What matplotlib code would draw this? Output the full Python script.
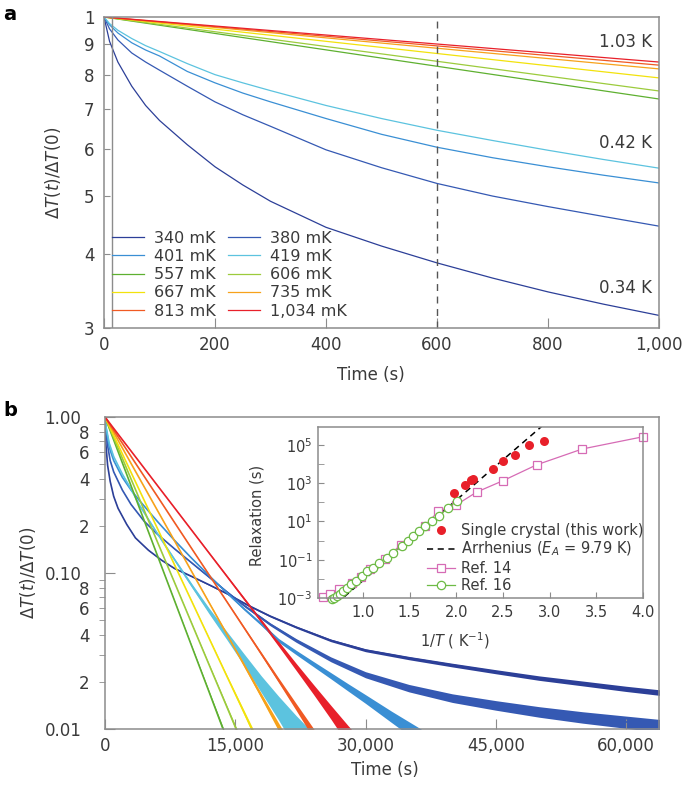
import matplotlib
matplotlib.use('Agg')
import matplotlib.pyplot as plt
from matplotlib.ticker import FixedLocator, FixedFormatter, FuncFormatter, NullLocator, NullFormatter

plt.rcParams['font.family'] = ['DejaVu Sans']
plt.rcParams['mathtext.fontset'] = 'dejavusans'

# ---------------- data ----------------
labels = ['340 mK', '380 mK', '401 mK', '419 mK', '557 mK',
          '606 mK', '667 mK', '735 mK', '813 mK', '1,034 mK']

# panel a: short time decay (s, normalised)
ta = [0, 10, 25, 50, 75, 100, 150, 200, 250, 300, 400, 500, 600, 700, 800, 900, 1000]
a_340 = [1.0, 0.91, 0.84, 0.765, 0.71, 0.67, 0.61, 0.56, 0.522, 0.49, 0.443, 0.412, 0.386, 0.364, 0.345, 0.329, 0.315]
a_380 = [1.0, 0.955, 0.915, 0.87, 0.84, 0.814, 0.765, 0.72, 0.685, 0.655, 0.598, 0.558, 0.525, 0.50, 0.48, 0.462, 0.445]
a_401 = [1.0, 0.97, 0.94, 0.905, 0.88, 0.86, 0.81, 0.775, 0.745, 0.72, 0.675, 0.635, 0.604, 0.58, 0.56, 0.542, 0.526]
a_419 = [1.0, 0.975, 0.95, 0.92, 0.895, 0.875, 0.835, 0.80, 0.775, 0.752, 0.71, 0.675, 0.645, 0.62, 0.597, 0.576, 0.557]
ta_lin = [0, 500, 1000]
a_557 = [1.0, 0.853, 0.728]
a_606 = [1.0, 0.867, 0.751]
a_667 = [1.0, 0.889, 0.790]
a_735 = [1.0, 0.904, 0.818]
a_813 = [1.0, 0.911, 0.830]
a_1034 = [1.0, 0.9165, 0.840]
a_yticks = [0.3, 0.4, 0.5, 0.6, 0.7, 0.8, 0.9, 1.0]
a_yticklabels = ['3', '4', '5', '6', '7', '8', '9', '1']
a_xticks = [0, 200, 400, 600, 800, 1000]
start_t = 15
dashed_t = 600
a_notes = ['1.03 K', '0.42 K', '0.34 K']
a_note_y = [0.908, 0.614, 0.350]

# panel b: long time decay
tb_340 = [0, 30, 100, 300, 600, 1000, 1500, 2500, 3500, 5000, 6500, 8000, 10000, 12000, 14000,
          16500, 19000, 22000, 26000, 30000, 35000, 40000, 45000, 50000, 55000, 60000, 64000]
b_340 = [1.0, 0.82, 0.67, 0.49, 0.386, 0.31, 0.26, 0.205, 0.168, 0.14, 0.121, 0.107, 0.095, 0.084, 0.074,
         0.062, 0.053, 0.045, 0.037, 0.032, 0.0285, 0.0257, 0.0233, 0.0212, 0.0196, 0.0181, 0.0171]
tb_380 = [0, 100, 300, 600, 1000, 2000, 3000, 4500, 6000, 8000, 10000, 12000, 14000, 16000, 19000,
          22000, 26000, 30000, 35000, 40000, 45000, 50000, 55000, 60000, 64000]
b_380 = [1.0, 0.814, 0.655, 0.525, 0.445, 0.34, 0.275, 0.215, 0.178, 0.143, 0.116, 0.094, 0.076, 0.062, 0.047,
         0.037, 0.028, 0.0223, 0.0183, 0.0158, 0.0142, 0.0129, 0.0119, 0.0111, 0.0105]
tb_401 = [0, 100, 500, 1000, 2000, 3000, 4000, 6000, 8000, 10000, 12000, 14000, 16000, 18000, 20000,
          22000, 24000, 26000, 28000, 30000, 33000, 36000, 38000]
b_401 = [1.0, 0.86, 0.635, 0.526, 0.41, 0.34, 0.29, 0.215, 0.162, 0.124, 0.096, 0.075, 0.059, 0.047, 0.037,
         0.031, 0.0261, 0.022, 0.0185, 0.0156, 0.012, 0.0093, 0.0078]
tb_419 = [0, 100, 500, 1000, 2000, 3000, 4000, 6000, 8000, 10000, 12000, 14000, 16000, 18000, 20000,
          22000, 24000, 26000]
b_419 = [1.0, 0.875, 0.675, 0.557, 0.43, 0.345, 0.27, 0.18, 0.122, 0.083, 0.057, 0.04, 0.028, 0.0195, 0.0138,
         0.0098, 0.007, 0.005]
tb_557 = [0, 2000, 4000, 6000, 8000, 10000, 12000, 14000, 15000]
b_557 = [1.0, 0.508, 0.258, 0.131, 0.0666, 0.0338, 0.0172, 0.0087, 0.0062]
tb_606 = [0, 2000, 4000, 6000, 8000, 10000, 12000, 14000, 16000, 17000]
b_606 = [1.0, 0.543, 0.295, 0.160, 0.0871, 0.0473, 0.0257, 0.0140, 0.0076, 0.0056]
tb_667 = [0, 2000, 4000, 6000, 8000, 10000, 12000, 14000, 16000, 18000, 19000]
b_667 = [1.0, 0.580, 0.336, 0.195, 0.113, 0.0656, 0.0380, 0.0220, 0.0128, 0.0074, 0.0056]
tb_735 = [0, 2000, 4000, 6000, 8000, 10000, 12000, 14000, 16000, 18000, 20000, 22000, 23000]
b_735 = [1.0, 0.633, 0.401, 0.254, 0.161, 0.1017, 0.0644, 0.0408, 0.0258, 0.0163, 0.0103, 0.0065, 0.0052]
tb_813 = [0, 2000, 4000, 6000, 8000, 10000, 12000, 14000, 16000, 18000, 20000, 22000, 24000, 26000, 27000]
b_813 = [1.0, 0.678, 0.460, 0.312, 0.211, 0.143, 0.0971, 0.0659, 0.0447, 0.0303, 0.0205, 0.0139, 0.0094,
         0.0064, 0.0053]
tb_1034 = [0, 2000, 4000, 6000, 8000, 10000, 12000, 14000, 16000, 18000, 20000, 22000, 24000, 26000,
           28000, 30000, 31000]
b_1034 = [1.0, 0.715, 0.512, 0.366, 0.262, 0.1874, 0.134, 0.0959, 0.0686, 0.0491, 0.0351, 0.0251, 0.0180,
          0.0129, 0.0092, 0.0066, 0.0056]
# scatter amplitude of each trace (absolute units)
b_noise = [0.0007, 0.0010, 0.0010, 0.0024, 0.0003, 0.0003, 0.0004, 0.0006, 0.0007, 0.0013]
b_xticks = [0, 15000, 30000, 45000, 60000]
b_minor = [0.02, 0.03, 0.04, 0.05, 0.06, 0.07, 0.08, 0.09, 0.2, 0.3, 0.4, 0.5, 0.6, 0.7, 0.8, 0.9]
b_minor_labels = ['2', '', '4', '', '6', '', '8', '', '2', '', '4', '', '6', '', '8', '']

# inset: relaxation time vs 1/T
crystal_x = [1.98, 2.09, 2.155, 2.18, 2.39, 2.50, 2.63, 2.78, 2.94]
crystal_tau = [310, 830, 1410, 1660, 5600, 15100, 30200, 1.0e5, 1.62e5]
arrh_x = [0.80, 2.92]
arrh_tau = [1.15e-3, 9.8e5]
ref14_x = [0.57, 0.65, 0.745, 0.88, 0.98, 1.08, 1.235, 1.41, 1.665, 1.81, 1.995, 2.22, 2.50, 2.86, 3.35, 4.00]
ref14_tau = [1.12e-3, 1.58e-3, 2.95e-3, 6.3e-3, 1.29e-2, 3.2e-2, 0.107, 0.62, 5.75, 35.5, 70.8, 347,
             1350, 9120, 6.17e4, 2.69e5]
ref16_x = [0.665, 0.69, 0.72, 0.755, 0.79, 0.83, 0.87, 0.925, 0.986, 1.046, 1.11, 1.175, 1.254, 1.325,
           1.415, 1.48, 1.54, 1.60, 1.665, 1.737, 1.82, 1.91, 2.005]
ref16_tau = [8.9e-4, 1.05e-3, 1.32e-3, 1.66e-3, 2.24e-3, 3.47e-3, 5.13e-3, 7.94e-3, 1.45e-2, 2.63e-2,
             3.89e-2, 7.08e-2, 0.129, 0.234, 0.525, 0.955, 1.70, 3.02, 5.75, 10.5, 20.4, 51.3, 115]
inset_yticks = [1e-3, 1e-1, 1e1, 1e3, 1e5]
inset_ytick_labels = ['$10^{-3}$', '$10^{-1}$', '$10^{1}$', '$10^{3}$', '$10^{5}$']
inset_yminor = [1e-2, 1e0, 1e2, 1e4]
inset_xticks = [1.0, 1.5, 2.0, 2.5, 3.0, 3.5, 4.0]

# ---------------- style ----------------
colors = ['#2c3f98', '#3559b3', '#3a8fd4', '#5cc3df', '#5eb030',
          '#9ccb3c', '#f2e20c', '#f7a21b', '#f05a23', '#e8202a']
frame = '#8c8c8c'
tcol = '#3a3a3a'
plt.rcParams['text.color'] = tcol
plt.rcParams['axes.labelcolor'] = tcol
plt.rcParams['xtick.color'] = frame
plt.rcParams['ytick.color'] = frame
plt.rcParams['xtick.labelcolor'] = tcol
plt.rcParams['ytick.labelcolor'] = tcol
fs = 12


def frame_style(ax):
    for s in ax.spines.values():
        s.set_color(frame)
        s.set_linewidth(1.1)


def comma(x, p):
    return '{:,}'.format(int(x))


fig = plt.figure(figsize=(6.85, 7.90), dpi=100)

# ---------------- panel a ----------------
axa = fig.add_axes([104 / 685, 1 - 328 / 790, 555 / 685, 311 / 790])
a_t = [ta, ta, ta, ta, ta_lin, ta_lin, ta_lin, ta_lin, ta_lin, ta_lin]
a_v = [a_340, a_380, a_401, a_419, a_557, a_606, a_667, a_735, a_813, a_1034]
handles = []
for t, v, c, lab in zip(a_t, a_v, colors, labels):
    h, = axa.plot(t, v, color=c, lw=0.9, label=lab)
    handles.append(h)
axa.axvline(start_t, color=frame, lw=1.0)
axa.axvline(dashed_t, color='#555555', lw=1.0, ls=(0, (5, 4)))
axa.set_yscale('log')
axa.set_ylim(0.3, 1.0)
axa.set_xlim(0, 1000)
axa.yaxis.set_major_locator(FixedLocator(a_yticks))
axa.yaxis.set_major_formatter(FixedFormatter(a_yticklabels))
axa.yaxis.set_minor_locator(NullLocator())
axa.xaxis.set_major_locator(FixedLocator(a_xticks))
axa.xaxis.set_major_formatter(FuncFormatter(comma))
axa.tick_params(direction='in', labelsize=fs)
axa.tick_params(axis='x', length=7, pad=6)
axa.tick_params(axis='y', length=4, pad=7)
axa.set_xlabel('Time (s)', fontsize=fs, va='top')
axa.xaxis.set_label_coords(0.48, -0.122)
axa.set_ylabel(r'$\Delta T(t)/\Delta T(0)$', fontsize=fs)
axa.yaxis.set_label_coords(-0.074, 0.5)
frame_style(axa)
for txt, y in zip(a_notes, a_note_y):
    axa.text(988, y, txt, ha='right', va='center', fontsize=fs)
order = [0, 2, 4, 6, 8, 1, 3, 5, 7, 9]
axa.legend([handles[i] for i in order], [labels[i] for i in order], ncol=2,
           loc='lower left', bbox_to_anchor=(0.015, 0.03), frameon=False, fontsize=11.5,
           handlelength=2.0, handletextpad=0.6, labelspacing=0.2, columnspacing=0.8,
           borderpad=0, borderaxespad=0)

# ---------------- panel b ----------------
axb = fig.add_axes([105 / 685, 1 - 729 / 790, 554 / 685, 312 / 790])
b_t = [tb_340, tb_380, tb_401, tb_419, tb_557, tb_606, tb_667, tb_735, tb_813, tb_1034]
b_v = [b_340, b_380, b_401, b_419, b_557, b_606, b_667, b_735, b_813, b_1034]
for t, v, s, c in zip(b_t, b_v, b_noise, colors):
    lo = [max(x - s, 1e-4) for x in v]
    hi = [x + s for x in v]
    axb.fill_between(t, lo, hi, color=c, lw=0)
    axb.plot(t, v, color=c, lw=1.2)
axb.set_yscale('log')
axb.set_ylim(0.01, 1.0)
axb.set_xlim(0, 63800)
axb.yaxis.set_major_locator(FixedLocator([0.01, 0.1, 1.0]))
axb.yaxis.set_major_formatter(FixedFormatter(['0.01', '0.10', '1.00']))
axb.yaxis.set_minor_locator(FixedLocator(b_minor))
axb.yaxis.set_minor_formatter(FixedFormatter(b_minor_labels))
axb.xaxis.set_major_locator(FixedLocator(b_xticks))
axb.xaxis.set_major_formatter(FuncFormatter(comma))
axb.tick_params(direction='in', labelsize=fs)
axb.tick_params(axis='y', which='major', length=7, pad=17)
axb.tick_params(axis='y', which='minor', length=4, pad=7, labelsize=fs)
axb.tick_params(axis='x', length=7, pad=6)
axb.set_xlabel('Time (s)', fontsize=fs, va='top')
axb.xaxis.set_label_coords(0.505, -0.103)
axb.set_ylabel(r'$\Delta T(t)/\Delta T(0)$', fontsize=fs)
axb.yaxis.set_label_coords(-0.121, 0.5)
frame_style(axb)

# ---------------- inset ----------------
axi = fig.add_axes([318 / 685, 1 - 598 / 790, 325 / 685, 171 / 790])
axi.set_facecolor('white')
axi.plot(crystal_x, crystal_tau, 'o', color='#e8202a', ms=6.5, mec='none',
         label='Single crystal (this work)', zorder=4)
axi.plot(arrh_x, arrh_tau, color='black', lw=1.1, ls=(0, (4, 3)),
         label=r'Arrhenius ($E_A$ = 9.79 K)', zorder=1.5)
axi.plot(ref14_x, ref14_tau, '-s', color='#d66bb5', lw=0.9, ms=6, mfc='white', mew=0.9,
         label='Ref. 14', clip_on=False, zorder=2)
axi.plot(ref16_x, ref16_tau, '-o', color='#6dbb45', lw=0.9, ms=6, mfc='white', mew=0.9,
         label='Ref. 16', clip_on=False, zorder=2)
axi.set_yscale('log')
axi.set_ylim(1e-3, 8.7e5)
axi.set_xlim(0.52, 4.0)
axi.yaxis.set_major_locator(FixedLocator(inset_yticks))
axi.yaxis.set_major_formatter(FixedFormatter(inset_ytick_labels))
axi.yaxis.set_minor_locator(FixedLocator(inset_yminor))
axi.yaxis.set_minor_formatter(NullFormatter())
axi.xaxis.set_major_locator(FixedLocator(inset_xticks))
axi.xaxis.set_major_formatter(FuncFormatter(lambda x, p: '{:.1f}'.format(x)))
axi.tick_params(direction='in', which='both', length=4, labelsize=10.5)
axi.tick_params(axis='x', pad=5)
axi.tick_params(axis='y', pad=4)
axi.set_xlabel(r'1/$T$ ( K$^{-1}$)', fontsize=10.5, va='top')
axi.xaxis.set_label_coords(0.42, -0.19)
axi.set_ylabel('Relaxation (s)', fontsize=10.5)
axi.yaxis.set_label_coords(-0.166, 0.48)
frame_style(axi)
axi.legend(loc='lower right', bbox_to_anchor=(1.0, 0.03), frameon=False, fontsize=10.5,
           handlelength=1.9, handletextpad=0.4, labelspacing=0.15, borderpad=0, borderaxespad=0)

fig.text(0.005, 1 - 15 / 790, 'a', fontsize=14, weight='bold', va='center', color='black')
fig.text(0.005, 1 - 410 / 790, 'b', fontsize=14, weight='bold', va='center', color='black')

fig.savefig('out.png', dpi=100)
